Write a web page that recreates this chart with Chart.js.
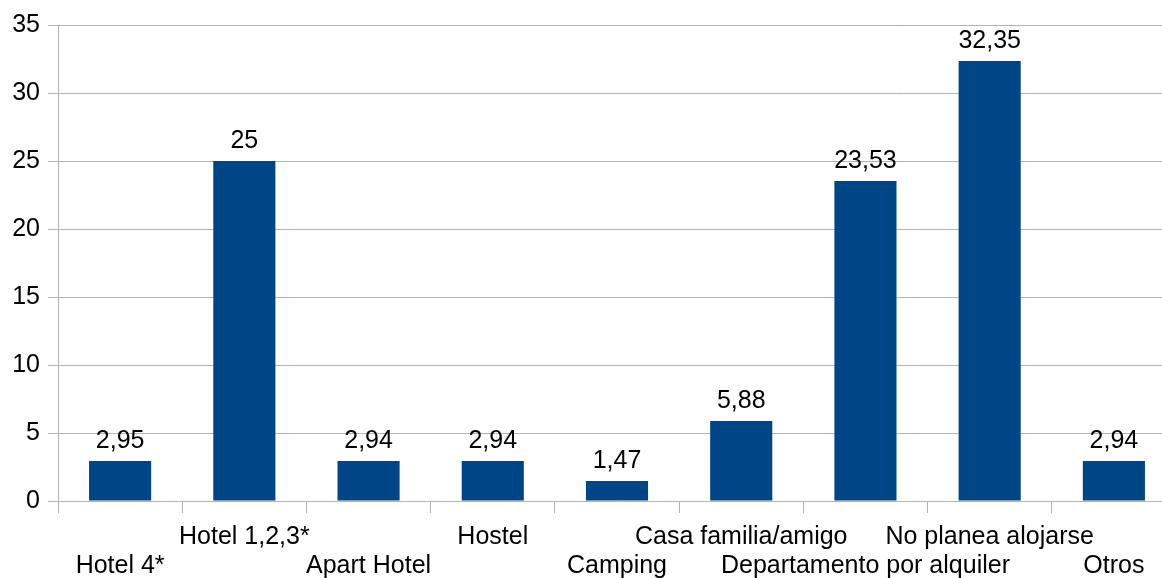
<!DOCTYPE html>
<html>
<head>
<meta charset="utf-8">
<script src="https://cdn.jsdelivr.net/npm/chart.js@4/dist/chart.umd.min.js"></script>
<style>
  html, body { margin: 0; padding: 0; overflow: hidden; background: #fff; }
  #wrap { width: 1176px; height: 578px; }
</style>
</head>
<body>
<div id="wrap"><canvas id="myChart" width="1176" height="578"></canvas></div>
<script>
const categories = ['Hotel 4*', 'Hotel 1,2,3*', 'Apart Hotel', 'Hostel', 'Camping',
  'Casa familia/amigo', 'Departamento por alquiler', 'No planea alojarse', 'Otros'];
const values = [2.95, 25, 2.94, 2.94, 1.47, 5.88, 23.53, 32.35, 2.94];
const yTicks = [0, 5, 10, 15, 20, 25, 30, 35];

// staggered labels: odd ones on the lower row
const labels = categories.map((c, i) => i % 2 === 0 ? ['', c] : [c, '']);

const fmt = v => String(v).replace('.', ',');
const FONT = '"Liberation Sans", Arial, sans-serif';

const valueLabels = {
  id: 'valueLabels',
  afterDatasetsDraw(chart) {
    const ctx = chart.ctx;
    const meta = chart.getDatasetMeta(0);
    ctx.save();
    ctx.font = '25px ' + FONT;
    ctx.fillStyle = '#000';
    ctx.textAlign = 'center';
    ctx.textBaseline = 'alphabetic';
    meta.data.forEach((bar, i) => {
      ctx.fillText(fmt(values[i]), bar.x, bar.y - 13);
    });
    ctx.restore();
  }
};

const ct = document.getElementById('myChart');
new Chart(ct, {
  type: 'bar',
  data: {
    labels: labels,
    datasets: [{
      data: values,
      backgroundColor: '#004586',
      barPercentage: 0.5,
      categoryPercentage: 1
    }]
  },
  options: {
    responsive: false,
    animation: false,
    layout: { padding: { top: 25, right: 0, left: 0, bottom: 0 } },
    plugins: { legend: { display: false }, tooltip: { enabled: false } },
    scales: {
      x: {
        afterFit: s => { s.height = 77; },
        grid: { drawOnChartArea: false, drawTicks: true, tickLength: 12, color: '#b3b3b3', offset: true },
        border: { display: false },
        ticks: {
          color: '#000', maxRotation: 0, autoSkip: false, padding: 10,
          font: { family: FONT, size: 25, lineHeight: 1.16 }
        }
      },
      y: {
        min: 0, max: 35,
        afterFit: s => { s.width = 58; },
        afterBuildTicks: s => { s.ticks = yTicks.map(v => ({ value: v })); },
        grid: { color: '#b3b3b3', tickLength: 10 },
        border: { display: true, color: '#b3b3b3' },
        ticks: {
          color: '#000', padding: 8,
          font: { family: FONT, size: 25 }
        }
      }
    }
  },
  plugins: [valueLabels]
});
</script>
</body>
</html>
